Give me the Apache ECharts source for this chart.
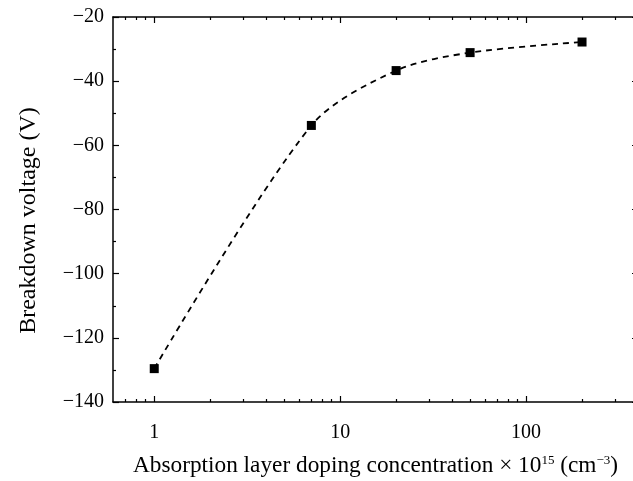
<!DOCTYPE html>
<html>
<head>
<meta charset="utf-8">
<script src="https://cdn.jsdelivr.net/npm/echarts@6/dist/echarts.min.js"></script>
<style>html,body{margin:0;padding:0;background:#fff;}#c{width:633px;height:481px;}</style>
</head>
<body>
<div id="c"></div>
<script>
const dopingConc = [1, 7, 20, 50, 200];
const breakdownVoltage = [-129.6, -53.8, -36.7, -31.1, -27.8];
const xMajorTicks = [1, 10, 100];
const xMinorTicks = [0.7, 0.8, 0.9, 2, 3, 4, 5, 6, 7, 8, 9, 20, 30, 40, 50, 60, 70, 80, 90, 200, 300];
const yMin = -140, yMax = -20, yStep = 20;
const xMin = 0.6, xMax = 400;

const FONT = 'Liberation Serif';
const black = '#000';

function xAxisDef(position, ticks, len, showLine, showLabel, extra) {
  return Object.assign({
    type: 'log', logBase: 10, min: xMin, max: xMax, position: position,
    axisLine: { show: showLine, lineStyle: { color: black, width: 1.5 } },
    axisTick: { show: true, inside: true, length: len, customValues: ticks, lineStyle: { color: black, width: 1.2 } },
    axisLabel: { show: showLabel, customValues: ticks, margin: 21, color: black, fontFamily: FONT, fontSize: 20 },
    splitLine: { show: false }, minorTick: { show: false }, minorSplitLine: { show: false }
  }, extra || {});
}

const chart = echarts.init(document.getElementById('c'), null, { renderer: 'canvas' });
chart.setOption({
  animation: false,
  backgroundColor: '#fff',
  grid: { left: 113, top: 17, right: -5, bottom: 79, containLabel: false, outerBoundsMode: 'none' },
  xAxis: [
    xAxisDef('bottom', xMajorTicks, 6, true, true, {
      name: '{a|Absorption layer doping concentration × 10}{s|15}{a| (cm}{s|−3}{a|)}',
      nameLocation: 'middle', nameGap: 52,
      nameTextStyle: {
        color: black, fontFamily: FONT, fontSize: 23,
        rich: {
          a: { fontFamily: FONT, fontSize: 23.3, color: black, lineHeight: 24 },
          s: { fontFamily: FONT, fontSize: 13, color: black, verticalAlign: 'top', lineHeight: 13 }
        }
      }
    }),
    xAxisDef('bottom', xMinorTicks, 3, false, false),
    xAxisDef('top', xMajorTicks, 6, true, false),
    xAxisDef('top', xMinorTicks, 3, false, false)
  ],
  yAxis: [
    {
      type: 'value', min: yMin, max: yMax, interval: yStep, position: 'left',
      name: 'Breakdown voltage (V)', nameLocation: 'middle', nameGap: 72,
      nameTextStyle: { color: black, fontFamily: FONT, fontSize: 24, padding: [0, 22, 0, 0] },
      axisLine: { show: true, lineStyle: { color: black, width: 1.5 } },
      axisTick: { show: true, inside: true, length: 6, lineStyle: { color: black, width: 1.2 } },
      minorTick: { show: true, splitNumber: 2, length: 3, lineStyle: { color: black, width: 1.2 } },
      axisLabel: { margin: 9, color: black, fontFamily: FONT, fontSize: 20, formatter: v => String(v).replace('-', '\u2212') },
      splitLine: { show: false }
    },
    {
      type: 'value', min: yMin, max: yMax, interval: yStep, position: 'right',
      axisLine: { show: true, lineStyle: { color: black, width: 1.5 } },
      axisTick: { show: true, inside: true, length: 6, lineStyle: { color: black, width: 1.2 } },
      minorTick: { show: true, splitNumber: 2, length: 3, lineStyle: { color: black, width: 1.2 } },
      axisLabel: { show: false },
      splitLine: { show: false }
    }
  ],
  series: [{
    type: 'line',
    xAxisIndex: 0, yAxisIndex: 0,
    data: dopingConc.map((x, i) => [x, breakdownVoltage[i]]),
    smooth: 0.3,
    symbol: 'rect', symbolSize: 9,
    itemStyle: { color: black },
    lineStyle: { color: black, width: 1.8, type: [6, 5] }
  }]
});
</script>
</body>
</html>
